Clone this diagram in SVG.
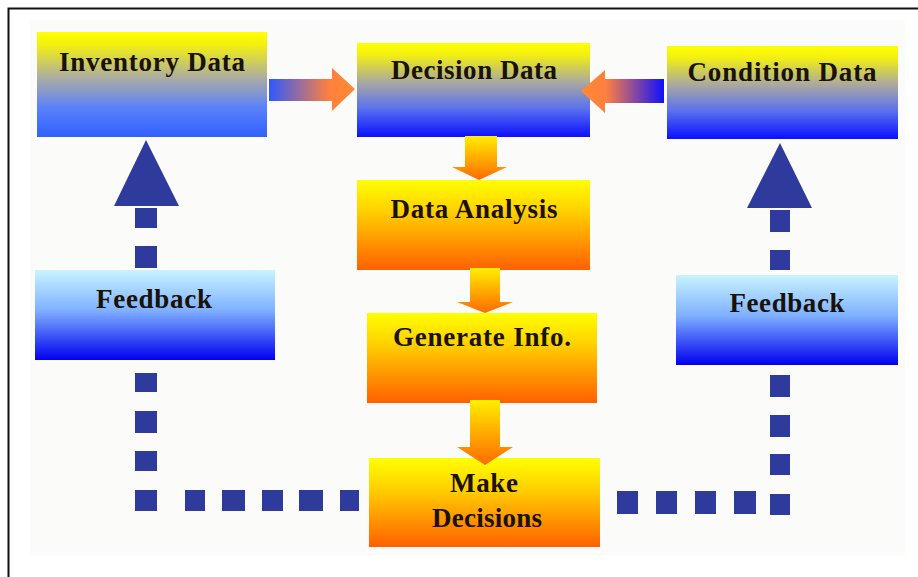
<svg xmlns="http://www.w3.org/2000/svg" width="918" height="577" viewBox="0 0 918 577">
<defs>
<linearGradient id="gTop" x1="0" y1="0" x2="0" y2="1">
<stop offset="0" stop-color="#ffff00"/><stop offset="0.12" stop-color="#f4f010"/><stop offset="0.42" stop-color="#a9a8a0"/><stop offset="0.7" stop-color="#5a70f0"/><stop offset="1" stop-color="#0a10ff"/>
</linearGradient>
<linearGradient id="gInv" x1="0" y1="0" x2="0" y2="1">
<stop offset="0" stop-color="#ffff00"/><stop offset="0.12" stop-color="#f4f010"/><stop offset="0.45" stop-color="#a9aaa8"/><stop offset="0.72" stop-color="#5a82f8"/><stop offset="1" stop-color="#3060ff"/>
</linearGradient>
<linearGradient id="gFb" x1="0" y1="0" x2="0" y2="1">
<stop offset="0" stop-color="#c8f4ff"/><stop offset="0.45" stop-color="#7fb0ff"/><stop offset="1" stop-color="#0000f0"/>
</linearGradient>
<linearGradient id="gOr" x1="0" y1="0" x2="0" y2="1">
<stop offset="0" stop-color="#ffff00"/><stop offset="0.35" stop-color="#ffd000"/><stop offset="1" stop-color="#ff6000"/>
</linearGradient>
<linearGradient id="gDown" x1="0" y1="0" x2="0" y2="1">
<stop offset="0" stop-color="#ffee00"/><stop offset="1" stop-color="#ff6a00"/>
</linearGradient>
<linearGradient id="gRight" x1="0" y1="0" x2="1" y2="0">
<stop offset="0" stop-color="#3058ff"/><stop offset="0.7" stop-color="#ff8040"/><stop offset="1" stop-color="#ff8a30"/>
</linearGradient>
<linearGradient id="gLeft" x1="1" y1="0" x2="0" y2="0">
<stop offset="0" stop-color="#1010ff"/><stop offset="0.7" stop-color="#ff7f40"/><stop offset="1" stop-color="#ff8a30"/>
</linearGradient>
<style>
.t{font-family:"Liberation Serif","Times New Roman",serif;font-weight:bold;font-size:27px;fill:#1a1205;text-anchor:middle}
.dot{fill:#2e3a9c}
</style>
</defs>
<rect x="0" y="0" width="918" height="577" fill="#ffffff"/>
<rect x="30" y="20" width="875" height="535" fill="#fbfbf9"/>
<path d="M8.5 577 V8.5 H918" fill="none" stroke="#111" stroke-width="2"/>

<g id="inventory-data"><rect x="37" y="32" width="230" height="105" fill="url(#gInv)"/><text class="t" x="152" y="71" textLength="186">Inventory Data</text></g>
<g id="decision-data"><rect x="357" y="43" width="233" height="94" fill="url(#gTop)"/><text class="t" x="474" y="79" textLength="166">Decision Data</text></g>
<g id="condition-data"><rect x="667" y="46" width="231" height="93" fill="url(#gTop)"/><text class="t" x="782" y="81" textLength="189">Condition Data</text></g>
<g id="data-analysis"><rect x="357" y="180" width="233" height="90" fill="url(#gOr)"/><text class="t" x="474" y="218" textLength="167">Data Analysis</text></g>
<g id="generate-info"><rect x="367" y="313" width="230" height="90" fill="url(#gOr)"/><text class="t" x="482" y="346" textLength="178">Generate Info.</text></g>
<g id="make-decisions"><rect x="369" y="458" width="231" height="89" fill="url(#gOr)"/><text class="t" x="484" y="492" textLength="68">Make</text><text class="t" x="487" y="527" textLength="110">Decisions</text></g>
<g id="feedback-left"><rect x="35" y="270" width="240" height="90" fill="url(#gFb)"/><text class="t" x="154" y="308" textLength="116">Feedback</text></g>
<g id="feedback-right"><rect x="676" y="275" width="222" height="90" fill="url(#gFb)"/><text class="t" x="787" y="312" textLength="115">Feedback</text></g>

<g id="connectors">
<polygon points="269,79 332,79 332,68 355,89 332,111 332,101 269,101" fill="url(#gRight)"/>
<polygon points="664,79 605,79 605,70 581,91 605,113 605,103 664,103" fill="url(#gLeft)"/>
<polygon points="465,136 497,136 497,167 507,167 479,180 452,167 465,167" fill="url(#gDown)"/>
<polygon points="470,268 500,268 500,302 513,302 485,313 457,302 470,302" fill="url(#gDown)"/>
<polygon points="470,400 500,400 500,447 513,447 485,465 457,447 470,447" fill="url(#gDown)"/>
<polygon class="dot" points="146,140 179,206 114,206"/>
<rect class="dot" x="135" y="208" width="22" height="20"/>
<rect class="dot" x="135" y="246" width="22" height="22"/>
<rect class="dot" x="135" y="373" width="22" height="19"/>
<rect class="dot" x="135" y="411" width="22" height="22"/>
<rect class="dot" x="135" y="451" width="22" height="20"/>
<rect class="dot" x="135" y="490" width="22" height="21"/>
<rect class="dot" x="185" y="490" width="20" height="21"/>
<rect class="dot" x="222" y="490" width="23" height="21"/>
<rect class="dot" x="262" y="490" width="21" height="21"/>
<rect class="dot" x="299" y="490" width="24" height="21"/>
<rect class="dot" x="340" y="490" width="19" height="21"/>
<polygon class="dot" points="780,143 812,208 747,208"/>
<rect class="dot" x="770" y="210" width="20" height="22"/>
<rect class="dot" x="770" y="250" width="20" height="20"/>
<rect class="dot" x="770" y="375" width="20" height="22"/>
<rect class="dot" x="770" y="415" width="20" height="22"/>
<rect class="dot" x="770" y="454" width="20" height="21"/>
<rect class="dot" x="770" y="494" width="20" height="21"/>
<rect class="dot" x="617" y="491" width="21" height="23"/>
<rect class="dot" x="656" y="491" width="21" height="23"/>
<rect class="dot" x="695" y="491" width="21" height="23"/>
<rect class="dot" x="734" y="491" width="22" height="23"/>
</g>
</svg>
